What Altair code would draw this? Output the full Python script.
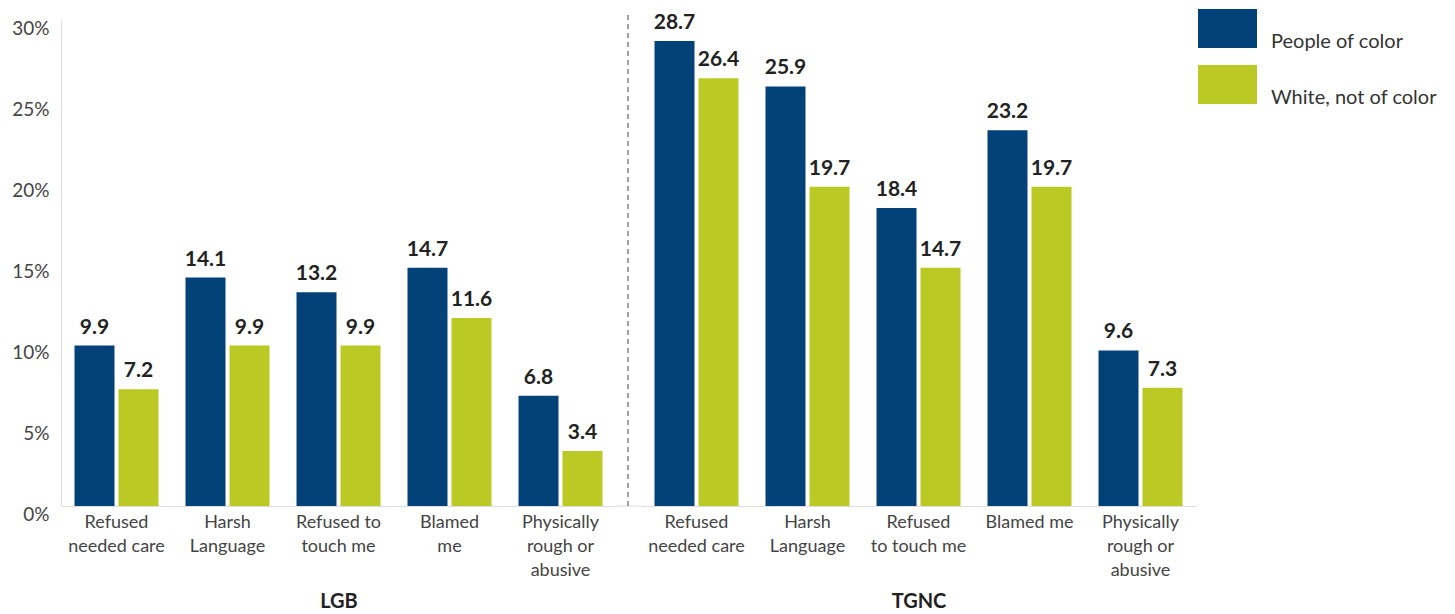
import altair as alt
import pandas as pd

series = ["People of color", "White, not of color"]
colors = ["#024279", "#BAC923"]

cats_lgb = ["Refused|needed care", "Harsh|Language", "Refused to|touch me", "Blamed|me", "Physically|rough or|abusive"]
poc_lgb = [9.9, 14.1, 13.2, 14.7, 6.8]
white_lgb = [7.2, 9.9, 9.9, 11.6, 3.4]

cats_tgnc = ["Refused|needed care", "Harsh|Language", "Refused|to touch me", "Blamed me", "Physically|rough or|abusive"]
poc_tgnc = [28.7, 25.9, 18.4, 23.2, 9.6]
white_tgnc = [26.4, 19.7, 14.7, 19.7, 7.3]

y_ticks = [0, 5, 10, 15, 20, 25, 30]

W, H = 555, 486
FONT = "Lato"


def make_df(cats, poc, white):
    rows = []
    for c, a, b in zip(cats, poc, white):
        rows.append({"cat": c, "series": series[0], "value": a})
        rows.append({"cat": c, "series": series[1], "value": b})
    return pd.DataFrame(rows)


def panel(cats, poc, white, title, left):
    df = make_df(cats, poc, white)
    x = alt.X(
        "cat:N",
        sort=cats,
        scale=alt.Scale(paddingInner=0.2432, paddingOuter=0.1216),
        axis=alt.Axis(
            title=title,
            labelExpr="split(datum.label, '|')",
            labelAngle=0,
            ticks=False,
            domainColor="#dddddd",
            labelFontSize=18,
            labelColor="#444444",
            labelLineHeight=24,
            labelPadding=7,
            titleFontSize=20,
            titleFontWeight="bold",
            titleColor="#222222",
            titlePadding=12,
        ),
    )
    xo = alt.XOffset("series:N", sort=series, scale=alt.Scale(paddingInner=0.0909, paddingOuter=0))
    if left:
        yaxis = alt.Axis(
            values=y_ticks,
            labelExpr="datum.value + '%'",
            ticks=False,
            grid=False,
            title=None,
            domainColor="#dddddd",
            labelFontSize=19,
            labelColor="#444444",
            labelPadding=12,
            labelOffset=8,
        )
    else:
        yaxis = None
    y = alt.Y("value:Q", scale=alt.Scale(domain=[0, 30], nice=False), axis=yaxis)
    color = alt.Color(
        "series:N",
        sort=series,
        scale=alt.Scale(domain=series, range=colors),
        legend=alt.Legend(
            title=None,
            orient="none",
            legendX=1144,
            legendY=-11,
            symbolType="M-1.311,-1H1.311V0.733H-1.311Z",
            symbolSize=2025,
            symbolStrokeWidth=0,
            symbolOpacity=1,
            labelFontSize=20,
            labelColor="#333333",
            labelBaseline="top",
            labelOffset=21,
            labelLimit=400,
            rowPadding=13,
            padding=0,
        ),
    )
    base = alt.Chart(df)
    bars = base.mark_bar().encode(x=x, xOffset=xo, y=y, color=color)
    text = base.mark_text(dy=-12, baseline="alphabetic", fontSize=21, fontWeight="bold", color="#222222").encode(
        x=x, xOffset=xo, y=y, text=alt.Text("value:Q", format=".1f")
    )
    layers = [bars, text]
    if not left:
        one = alt.Chart(pd.DataFrame({"k": [0]}))
        gap = one.mark_rule(color="#dddddd", strokeWidth=1).encode(
            x=alt.value(-25), x2=alt.value(0), y=alt.value(H)
        )
        dash = one.mark_rule(color="#444444", strokeWidth=1, strokeDash=[5, 4]).encode(
            x=alt.value(-13), y=alt.value(-5), y2=alt.value(H)
        )
        layers = [gap, dash] + layers
    return alt.layer(*layers).properties(width=W, height=H)


left = panel(cats_lgb, poc_lgb, white_lgb, "LGB", True)
right = panel(cats_tgnc, poc_tgnc, white_tgnc, "TGNC", False)

chart = (
    alt.hconcat(left, right, spacing=25, bounds="flush")
    .properties(padding={"left": 3, "top": 1, "right": 5, "bottom": 0})
    .configure(font=FONT)
    .configure_view(stroke=None)
)

chart.save("out.html", embed_options={"renderer": "svg", "actions": False})
